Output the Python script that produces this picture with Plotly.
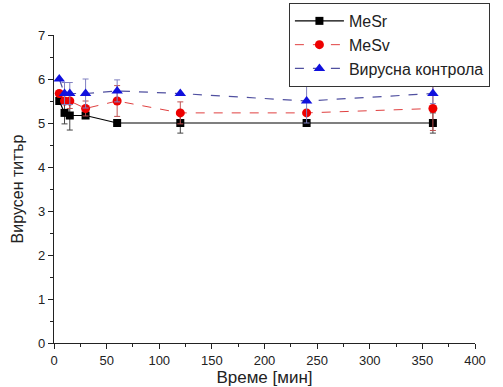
import plotly.graph_objects as go

time_min = [5, 10, 15, 30, 60, 120, 240, 360]
mesr = [5.5, 5.23, 5.17, 5.17, 5.0, 5.0, 5.0, 5.0]
mesr_err = [0.0, 0.25, 0.33, 0.0, 0.0, 0.23, 0.0, 0.23]
mesv = [5.67, 5.5, 5.5, 5.33, 5.5, 5.23, 5.23, 5.33]
mesv_err = [0.0, 0.0, 0.17, 0.17, 0.35, 0.25, 0.0, 0.5]
control = [6.0, 5.67, 5.67, 5.67, 5.73, 5.67, 5.5, 5.67]
control_err = [0.0, 0.25, 0.25, 0.33, 0.25, 0.0, 0.5, 0.23]

names = ["MeSr", "MeSv", "Вирусна контрола"]

fig = go.Figure()
fig.add_trace(go.Scatter(
    x=time_min, y=mesr, name=names[0], mode="lines+markers",
    line=dict(color="black", width=1.2),
    marker=dict(symbol="square", size=8, color="black"),
    error_y=dict(type="data", array=mesr_err, color="#444444", thickness=1, width=3),
))
fig.add_trace(go.Scatter(
    x=time_min, y=mesv, name=names[1], mode="lines+markers",
    line=dict(color="#e04040", width=1, dash="dash"),
    marker=dict(symbol="circle", size=9, color="#ee0000"),
    error_y=dict(type="data", array=mesv_err, color="#c05050", thickness=1, width=3),
))
fig.add_trace(go.Scatter(
    x=time_min, y=control, name=names[2], mode="lines+markers",
    line=dict(color="#5050a0", width=1.2, dash="dash"),
    marker=dict(symbol="triangle-up", size=10, color="#1010dd"),
    error_y=dict(type="data", array=control_err, color="#8080c0", thickness=1, width=3),
))

font = "Liberation Sans, Arial, sans-serif"
fig.update_layout(
    width=503, height=387,
    margin=dict(l=54, r=28, t=35, b=44, autoexpand=False),
    paper_bgcolor="white", plot_bgcolor="white",
    font=dict(family=font, size=13, color="#222222"),
    showlegend=True,
    legend=dict(
        x=0.558, y=1.104, xanchor="left", yanchor="top",
        bgcolor="white", bordercolor="#333333", borderwidth=1,
        font=dict(size=16, color="#222222"),
        itemwidth=49, tracegroupgap=0,
    ),
    xaxis=dict(
        range=[0, 400], dtick=50, tick0=0, automargin=False,
        showgrid=False, zeroline=False,
        showline=True, linecolor="#222222", linewidth=1.2,
        ticks="outside", ticklen=5, tickcolor="#222222",
        minor=dict(ticks="outside", ticklen=3, dtick=25, tickcolor="#222222"),
        title=dict(text="Време [мин]", font=dict(size=17), standoff=4),
        tickfont=dict(size=13),
    ),
    yaxis=dict(
        range=[0, 7], dtick=1, tick0=0, automargin=False,
        showgrid=False, zeroline=False,
        showline=True, linecolor="#222222", linewidth=1.2,
        ticks="outside", ticklen=5, tickcolor="#222222",
        minor=dict(ticks="outside", ticklen=3, dtick=0.5, tickcolor="#222222"),
        title=dict(text="Вирусен титър", font=dict(size=16), standoff=10),
        tickfont=dict(size=13),
    ),
)

fig.write_html("out.html")
